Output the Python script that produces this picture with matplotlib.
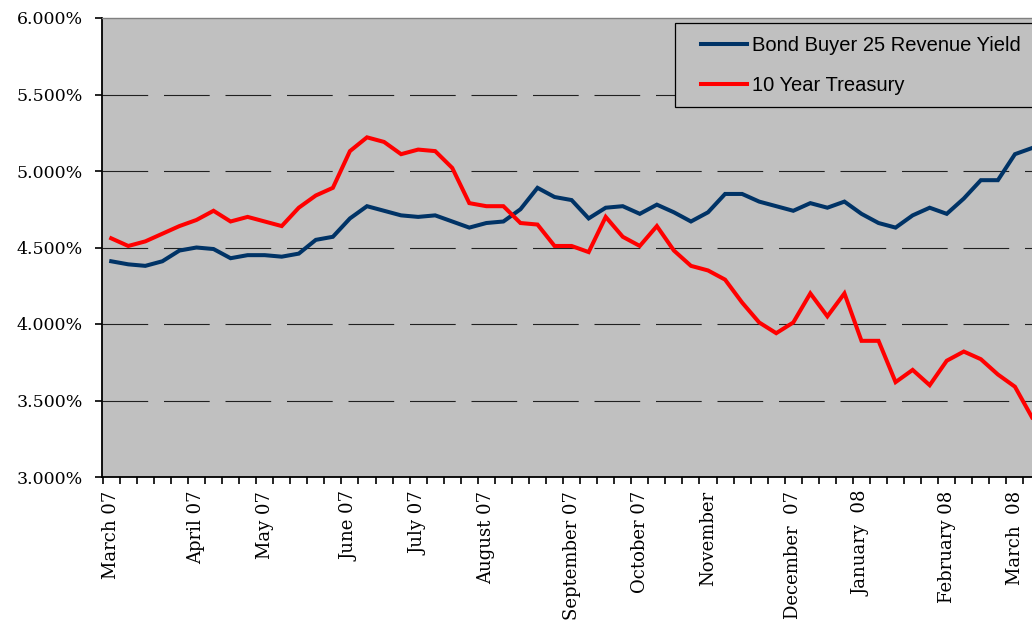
import matplotlib
matplotlib.use('Agg')
import matplotlib.pyplot as plt
from matplotlib.patches import Rectangle
import numpy as np

# weekly yields, March 2007 - March 2008
bond_buyer = [4.41, 4.39, 4.38, 4.41, 4.48, 4.50, 4.49, 4.43, 4.45, 4.45,
              4.44, 4.46, 4.55, 4.57, 4.69, 4.77, 4.74, 4.71, 4.70, 4.71,
              4.67, 4.63, 4.66, 4.67, 4.75, 4.89, 4.83, 4.81, 4.69, 4.76,
              4.77, 4.72, 4.78, 4.73, 4.67, 4.73, 4.85, 4.85, 4.80, 4.77,
              4.74, 4.79, 4.76, 4.80, 4.72, 4.66, 4.63, 4.71, 4.76, 4.72,
              4.82, 4.94, 4.94, 5.11, 5.15]
treasury = [4.56, 4.51, 4.54, 4.59, 4.64, 4.68, 4.74, 4.67, 4.70, 4.67,
            4.64, 4.76, 4.84, 4.89, 5.13, 5.22, 5.19, 5.11, 5.14, 5.13,
            5.02, 4.79, 4.77, 4.77, 4.66, 4.65, 4.51, 4.51, 4.47, 4.70,
            4.57, 4.51, 4.64, 4.48, 4.38, 4.35, 4.29, 4.14, 4.01, 3.94,
            4.01, 4.20, 4.05, 4.20, 3.89, 3.89, 3.62, 3.70, 3.60, 3.76,
            3.82, 3.77, 3.67, 3.59, 3.39]

month_labels = {0: 'March 07', 5: 'April 07', 9: 'May 07', 14: 'June 07',
                18: 'July 07', 22: 'August 07', 27: 'September 07',
                31: 'October 07', 35: 'November', 40: 'December  07',
                44: 'January  08', 49: 'February 08', 53: 'March  08'}
tick_labels = [month_labels.get(i, '') for i in range(len(bond_buyer))]

y_ticks = [3.0, 3.5, 4.0, 4.5, 5.0, 5.5, 6.0]
series_names = ['Bond Buyer 25 Revenue Yield', '10 Year Treasury']

W, H = 1032, 627
fig = plt.figure(figsize=(W / 100, H / 100), dpi=100)
ax = fig.add_axes([102 / W, 1 - 477 / H, 1 - 102 / W, (477 - 18) / H])
ax.set_facecolor('#c0c0c0')

x = np.arange(len(bond_buyer))
plt.rcParams['lines.scale_dashes'] = False
for y in y_ticks[1:-1]:
    ax.axhline(y, color='#202020', lw=0.8, dashes=(45.7 * 0.72, 15.8 * 0.72), zorder=1)

l1, = ax.plot(x, bond_buyer, color='#003366', lw=2.9, solid_joinstyle='miter', zorder=3)
l2, = ax.plot(x, treasury, color='#ff0000', lw=2.9, solid_joinstyle='miter', zorder=3)

ax.set_xlim(-0.54, 53.44)
ax.set_ylim(3.0, 6.0)

ax.set_yticks(y_ticks)
ax.set_yticklabels(['{:.3f}%'.format(v) for v in y_ticks],
                   fontfamily='DejaVu Serif', fontsize=12.5)
ax.tick_params(axis='y', direction='out', length=4.8, width=1.2, pad=9)

ax.set_xticks(x)
ax.set_xticklabels(tick_labels, rotation=90, fontfamily='DejaVu Serif',
                   fontsize=13, va='top', ha='center')
ax.set_xticks(np.arange(len(bond_buyer)) - 0.5, minor=True)
ax.tick_params(axis='x', which='major', length=0, pad=10)
ax.tick_params(axis='x', which='minor', direction='out', length=5, width=1.2)

ax.spines['right'].set_visible(False)
ax.spines['top'].set_color('#808080')
ax.spines['top'].set_linewidth(1.0)
ax.spines['left'].set_linewidth(1.3)
ax.spines['bottom'].set_linewidth(1.3)

# legend box, filled so it hides the grid beneath
fig.patches.append(Rectangle((675 / W, 1 - 107 / H), 380 / W, 84 / H,
                             transform=fig.transFigure, facecolor='#c0c0c0',
                             edgecolor='black', lw=0.9, zorder=5))
leg = fig.legend([l1, l2], series_names, loc='upper left',
                 bbox_to_anchor=(701 / W, 1 - 36 / H), bbox_transform=fig.transFigure,
                 frameon=False, borderpad=0, borderaxespad=0, handlelength=2.3,
                 handletextpad=0.25, labelspacing=1.05,
                 prop={'family': 'Liberation Sans', 'size': 14.5})
leg.set_zorder(6)

fig.savefig('out.png', dpi=100, facecolor='white')
